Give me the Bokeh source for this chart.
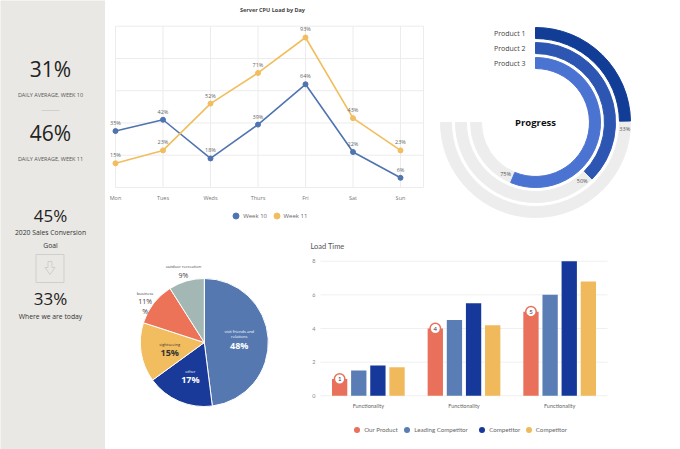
import numpy as np
from bokeh.plotting import figure
from bokeh.layouts import row, column
from bokeh.models import Range1d, FixedTicker, Legend, LegendItem
from bokeh.core.properties import value
from bokeh.embed import file_html
from bokeh.resources import INLINE

# ---------------- data ----------------
kpi_values = ["31%", "46%"]
kpi_captions = ["DAILY AVERAGE, WEEK 10", "DAILY AVERAGE, WEEK 11"]
goal_value = "45%"
goal_caption = "2020 Sales Conversion\nGoal"
today_value = "33%"
today_caption = "Where we are today"

days = ["Mon", "Tues", "Weds", "Thurs", "Fri", "Sat", "Sun"]
week10 = [35, 42, 18, 39, 64, 22, 6]
week11 = [15, 23, 52, 71, 93, 43, 23]
cpu_ticks = [0, 20, 40, 60, 80, 100]

products = ["Product 1", "Product 2", "Product 3"]
progress = [33, 50, 75]

pie_labels = ["visit friends and\nrelations", "other", "sightseeing", "business", "outdoor recreation"]
pie_values = [48, 17, 15, 11, 9]

bar_categories = ["Functionality", "Functionality", "Functionality"]
bar_series = ["Our Product", "Leading Competitor", "Competitor", "Competitor"]
our_product = [1, 4, 5]
leading_competitor = [1.5, 4.5, 6]
competitor_a = [1.8, 5.5, 8]
competitor_b = [1.7, 4.2, 6.8]
bar_ticks = [0, 2, 4, 6, 8]

# ---------------- styles ----------------
PANEL = "#eae8e4"
GRID = "#ececec"
C10, C11 = "#4f74b0", "#f2bd5e"
PROG_COLORS = ["#123d97", "#2d56b3", "#4b73d1"]
PIE_COLORS = ["#5578b0", "#1a3a9a", "#f2bd5e", "#ec7258", "#a3b8b5"]
BAR_COLORS = ["#e9705a", "#5a7db5", "#15389a", "#f0b95c"]
F = "Open Sans"


def base(w, h, xr, yr, **kw):
    return figure(width=w, height=h, x_range=xr, y_range=yr, output_backend="svg", title=None,
                  toolbar_location=None, outline_line_color=None, min_border=0, **kw)


def mapping(fig_px0, fig_px1, px_zero, ppu, down=False):
    """Range for a figure side spanning pixels fig_px0..fig_px1 where data 0 sits at px_zero."""
    if down:  # y pixels grow downwards
        return Range1d((px_zero - fig_px1) / ppu, (px_zero - fig_px0) / ppu)
    return Range1d((fig_px0 - px_zero) / ppu, (fig_px1 - px_zero) / ppu)


def style_axis(ax, size, color, font):
    ax.axis_line_color = None
    ax.major_tick_line_color = None
    ax.minor_tick_line_color = None
    ax.major_tick_out = 0
    ax.major_tick_in = 0
    ax.minor_tick_out = 0
    ax.major_label_text_font_size = size
    ax.major_label_text_color = color
    ax.major_label_text_font = font


def one_item_legend(p, label, renderer, loc, font, size, color):
    p.add_layout(Legend(items=[LegendItem(label=label, renderers=[renderer])], location=loc,
                        glyph_width=15, glyph_height=15, label_height=10, label_standoff=0,
                        padding=0, margin=0, label_text_font_size=size, label_text_color=color,
                        label_text_font=font, background_fill_alpha=0, border_line_color=None))


# ---------------- left panel ----------------
left = base(105, 449, Range1d(0, 105), Range1d(449, 0), x_axis_type=None, y_axis_type=None,
            background_fill_color=PANEL, border_fill_color=PANEL)
left.text(x=[50, 50], y=[68, 132], text=kpi_values, text_font=value(F), text_font_size="21px",
          text_color="#222222", text_align="center", text_baseline="middle")
left.text(x=[50, 50], y=[94, 158], text=kpi_captions, text_font=value(F), text_font_size="5.5px",
          text_color="#555555", text_align="center", text_baseline="middle")
left.segment(x0=[41], y0=[110], x1=[59], y1=[110], line_color="#d0d0d0", line_width=1)
left.text(x=[50, 50], y=[215, 298], text=[goal_value, today_value], text_font=value(F),
          text_font_size="17px", text_color="#222222", text_align="center", text_baseline="middle")
left.text(x=[50], y=[238.5], text=[goal_caption], text_font=value(F), text_font_size="6.8px",
          text_color="#333333", text_align="center", text_baseline="middle", text_line_height=1.4)
left.text(x=[50], y=[316], text=[today_caption], text_font=value(F), text_font_size="6.8px",
          text_color="#333333", text_align="center", text_baseline="middle")
left.rect(x=[49.5], y=[268], width=28, height=28, fill_color=None, line_color="#cfcfcf", line_width=1)
left.patch(x=[47.5, 51.5, 51.5, 54.5, 49.5, 44.5, 47.5, 47.5],
           y=[261, 261, 267, 267, 274, 267, 267, 261],
           fill_color=None, line_color="#cfcfcf", line_width=1)

# ---------------- line chart (page x 105-425, y 0-225) ----------------
LX0, LPX = 115, 47.5          # Mon pixel, pixels per day
LY0, LPY = 187, 1.613         # 0% pixel, pixels per percent
xi = np.arange(len(days))
lc = base(320, 225, mapping(105, 425, LX0, LPX), mapping(0, 225, LY0, LPY, down=True), y_axis_type=None)
lc.xaxis.fixed_location = 0
lc.xaxis.ticker = FixedTicker(ticks=list(xi))
lc.xaxis.major_label_overrides = {int(i): d for i, d in zip(xi, days)}
style_axis(lc.xaxis, "5.5px", "#777777", F)
lc.xaxis.major_label_standoff = 6
lc.xgrid.grid_line_color = None
x_end = (423 - LX0) / LPX
lc.segment(x0=[0] * len(cpu_ticks), y0=cpu_ticks, x1=[x_end] * len(cpu_ticks), y1=cpu_ticks,
           line_color=GRID, line_width=1)
vx = list(xi) + [x_end]
lc.segment(x0=vx, y0=[0] * len(vx), x1=vx, y1=[max(cpu_ticks)] * len(vx), line_color=GRID, line_width=1)

lc.line(xi, week10, line_color=C10, line_width=1.6)
lc.line(xi, week11, line_color=C11, line_width=1.6)
s10 = lc.scatter(xi, week10, size=5, color=C10)
s11 = lc.scatter(xi, week11, size=5, color=C11)
for vals in (week10, week11):
    lc.text(x=xi, y=vals, text=[f"{v}%" for v in vals], y_offset=-4, text_font=value(F),
            text_font_size="5.5px", text_color="#666666", text_align="center", text_baseline="bottom")
lc.text(x=[(272 - LX0) / LPX], y=[(LY0 - 9) / LPY], text=["Server CPU Load by Day"], text_font=value(F),
        text_font_size="5.5px", text_font_style="bold", text_color="#444444",
        text_align="center", text_baseline="middle")
for lab, rend, cx in zip(["Week 10", "Week 11"], [s10, s11], [235.7, 276.0]):
    one_item_legend(lc, lab, rend, (cx - 7.5 - 105, 2), F, "6px", "#666666")

# ---------------- progress chart (page x 425-680, y 0-225) ----------------
pc = base(255, 225, Range1d(-110, 145), Range1d(-103, 122), x_axis_type=None, y_axis_type=None)
outer = np.array([95.0, 80.0, 65.0])
inner = outer - 11
mid = (inner + outer) / 2
ends = np.pi / 2 - np.array(progress) / 100 * 1.5 * np.pi
pc.annular_wedge(x=0, y=0, inner_radius=inner, outer_radius=outer, start_angle=np.pi / 2,
                 end_angle=-np.pi, direction="clock", color="#ededed")
pc.annular_wedge(x=0, y=0, inner_radius=inner, outer_radius=outer, start_angle=np.pi / 2,
                 end_angle=ends, direction="clock", color=PROG_COLORS)
la = ends - 8 / mid
pc.text(x=mid * np.cos(la), y=mid * np.sin(la), text=[f"{v}%" for v in progress], text_font=value(F),
        text_font_size="5.5px", text_color="#555555", text_align="center", text_baseline="middle")
pc.text(x=[-10] * 3, y=mid, text=products, text_font=value(F), text_font_size="7px",
        text_color="#444444", text_align="right", text_baseline="middle")
pc.text(x=[0], y=[0], text=["Progress"], text_font=value(F), text_font_size="9.5px",
        text_font_style="bold", text_color="#111111", text_align="center", text_baseline="middle")

# ---------------- pie chart (page x 105-290, y 225-449) ----------------
pie = base(185, 224, Range1d(-98.8, 86.2), Range1d(-107, 117), x_axis_type=None, y_axis_type=None)
frac = np.array(pie_values) / sum(pie_values)
cum = np.concatenate([[0], np.cumsum(frac)])
st = np.pi / 2 - cum[:-1] * 2 * np.pi
en = np.pi / 2 - cum[1:] * 2 * np.pi
R = 64
pie.wedge(x=0, y=0, radius=R, start_angle=st, end_angle=en, direction="clock",
          fill_color=PIE_COLORS, line_color="white", line_width=1)
mida = (st + en) / 2
inside = frac >= 0.15
r_lab = np.where(inside, 35, 75)
lx, ly = r_lab * np.cos(mida), r_lab * np.sin(mida)
txt_col = ["white", "white", "#333333", "#444444", "#444444"]
pie.text(x=lx, y=ly, text=[f"{v}%" for v in pie_values], y_offset=5, text_font=value(F),
         text_font_size=["9px" if i else "7px" for i in inside],
         text_font_style=["bold" if i else "normal" for i in inside],
         text_color=txt_col, text_align="center", text_baseline="middle")
pie.text(x=lx, y=ly, text=pie_labels, y_offset=-1, text_font=value(F), text_font_size="4px",
         text_color=txt_col, text_align="center", text_baseline="bottom", text_line_height=1.1)
pie.text(x=lx[3:4], y=ly[3:4], text=["%"], y_offset=15, text_font=value(F), text_font_size="7px",
         text_color="#444444", text_align="center", text_baseline="middle")

# ---------------- bar chart (page x 290-680, y 225-449) ----------------
BX0, BPX = 320, 95.67        # x=0 pixel, pixels per group
BY0, BPY = 395.3, 16.825     # y=0 pixel, pixels per second
gx = np.arange(len(bar_categories)) + 0.5
bc = base(390, 224, mapping(290, 680, BX0, BPX), mapping(225, 449, BY0, BPY, down=True))
bc.xaxis.fixed_location = 0
bc.yaxis.fixed_location = 0
bc.xaxis.ticker = FixedTicker(ticks=list(gx))
bc.xaxis.major_label_overrides = {float(g): c for g, c in zip(gx, bar_categories)}
bc.yaxis.ticker = FixedTicker(ticks=bar_ticks)
style_axis(bc.xaxis, "5.5px", "#666666", "Lato")
style_axis(bc.yaxis, "5.5px", "#888888", "Lato")
bc.xaxis.major_label_standoff = 7
bc.yaxis.major_label_standoff = 5
bc.xgrid.grid_line_color = None
bc.ygrid.grid_line_color = None
bc.segment(x0=[0] * len(bar_ticks), y0=bar_ticks, x1=[len(gx)] * len(bar_ticks), y1=bar_ticks,
           line_color="#f0f0f0", line_width=1)

offsets = [-0.3, -0.1, 0.1, 0.3]
series_vals = [our_product, leading_competitor, competitor_a, competitor_b]
legend_centers = [356.7, 406.7, 481.7, 528.3]
for name, vals, off, col, cx in zip(bar_series, series_vals, offsets, BAR_COLORS, legend_centers):
    bc.vbar(x=gx + off, top=vals, width=0.16, fill_color=col, line_color=None)
    dot = bc.scatter(x=gx + off, y=vals, size=0, fill_color=col, line_color=None)
    one_item_legend(bc, name, dot, (cx - 7.5 - 290, 12), "Lato", "6.2px", "#666666")
bc.scatter(x=gx + offsets[0], y=our_product, size=10.5, fill_color="white", line_color=BAR_COLORS[0], line_width=1.5)
bc.text(x=gx + offsets[0], y=our_product, text=[str(v) for v in our_product], text_font=value("Lato"),
        text_font_size="6px", text_color="#333333", text_align="center", text_baseline="middle")
bc.text(x=[(310 - BX0) / BPX], y=[(BY0 - 246) / BPY], text=["Load Time"], text_font=value("Lato"),
        text_font_size="7.5px", text_color="#555555", text_align="left", text_baseline="middle")

layout = row(left, column(row(lc, pc), row(pie, bc)))
open("out.html", "w").write(file_html(layout, INLINE))
